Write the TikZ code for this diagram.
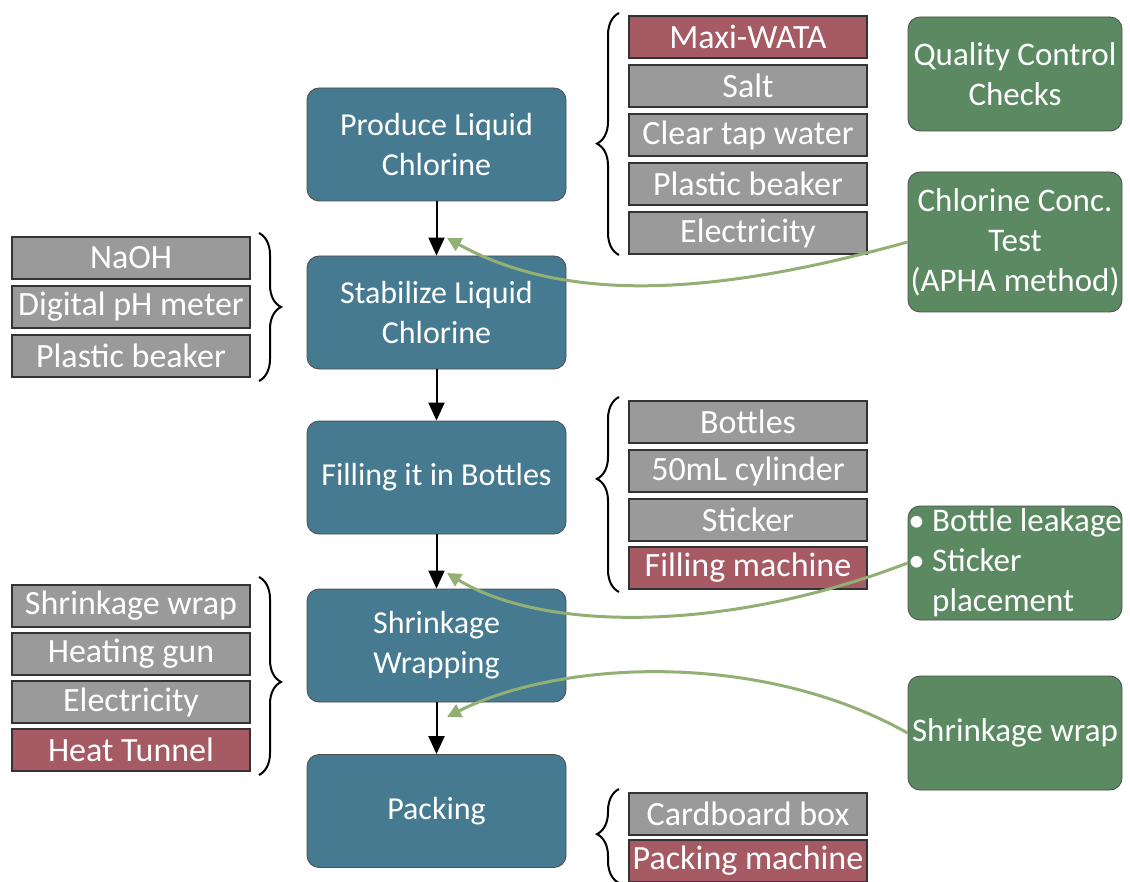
\documentclass[tikz,border=0pt]{standalone}
\usepackage{fontspec}
\setmainfont{Carlito}
\usepackage{xcolor}
\usetikzlibrary{arrows,arrows.meta,positioning,shapes,calc,decorations.pathreplacing}
\definecolor{proccol}{HTML}{457A91}
\definecolor{itemcol}{HTML}{9A9A9A}
\definecolor{redcol}{HTML}{A65A63}
\definecolor{qccol}{HTML}{5B8A62}
\definecolor{linkcol}{HTML}{93B074}

\begin{document}
\begin{tikzpicture}[x = 0.5pt, y = -0.5pt,
    proc/.style = {draw = black!70, fill = proccol, rounded corners = 6pt, minimum width = 129.5pt,
      minimum height = 56.5pt, text = white, align = center, inner sep = 0pt, font = \fontsize{16}{20}\selectfont},
    item/.style = {draw = black!80, line width = 1pt, fill = itemcol, minimum width = 119pt,
      minimum height = 21pt, text = white, inner sep = 0pt, font = \fontsize{17}{18}\selectfont},
    itemred/.style = {item, fill = redcol},
    qc/.style = {draw = black!70, fill = qccol, rounded corners = 6pt, minimum width = 107pt,
      minimum height = 57pt, text = white, align = center, inner sep = 0pt, font = \fontsize{16.5}{20}\selectfont},
    brc/.style = {decorate, decoration = {brace, amplitude = 11pt, aspect = #1}, line width = 1pt},
    flow/.style = {-{Triangle[length = 9pt, width = 8pt]}, line width = 1pt},
    qclink/.style = {-{Triangle[length = 7pt, width = 7pt]}, draw = linkcol, line width = 1.5pt}]
    \useasboundingbox (0,0) rectangle (1130,882);
    % Process steps
    \node[proc] (prod) at (436.5,144.5) {Produce Liquid\\Chlorine};
    \node[proc] (stab) at (436.5,312.5) {Stabilize Liquid\\Chlorine};
    \node[proc] (fill) at (436.5,477.5) {Filling it in Bottles};
    \node[proc] (shrink) at (436.5,645.5) {Shrinkage\\Wrapping};
    \node[proc] (pack) at (436.5,811) {Packing};
    \draw[flow] (prod) -- (stab);
    \draw[flow] (stab) -- (fill);
    \draw[flow] (fill) -- (shrink);
    \draw[flow] (shrink) -- (pack);
    % Inputs
    \node[itemred] (p1) at (748,37) {Maxi-WATA};
    \node[item] (p2) at (748,86) {Salt};
    \node[item] (p3) at (748,135) {Clear tap water};
    \node[item] (p4) at (748,184) {Plastic beaker};
    \node[item] (p5) at (748,233) {Electricity};
    \node[item] (s1) at (131,258) {NaOH};
    \node[item] (s2) at (131,307) {Digital pH meter};
    \node[item] (s3) at (131,356) {Plastic beaker};
    \node[item] (f1) at (748,422) {Bottles};
    \node[item] (f2) at (748,471) {50mL cylinder};
    \node[item] (f3) at (748,520) {Sticker};
    \node[itemred] (f4) at (748,568) {Filling machine};
    \node[item] (w1) at (131,606) {Shrinkage wrap};
    \node[item] (w2) at (131,654) {Heating gun};
    \node[item] (w3) at (131,702) {Electricity};
    \node[itemred] (w4) at (131,750) {Heat Tunnel};
    \node[item] (k1) at (748,814) {Cardboard box};
    \node[itemred] (k2) at (748,861) {Packing machine};
    % Braces
    \draw[brc = 0.46] ($(p5.south west)+(-9,0)$) -- ($(p1.north west)+(-9,-2)$);
    \draw[brc = 0.5] ($(s1.north east)+(8,-3)$) -- ($(s3.south east)+(8,3)$);
    \draw[brc = 0.58] ($(f4.south west)+(-9,2)$) -- ($(f1.north west)+(-9,-3)$);
    \draw[brc = 0.53] ($(w1.north east)+(8,-7)$) -- ($(w4.south east)+(8,3)$);
    \draw[brc = 0.52] ($(k2.south west)+(-9,0)$) -- ($(k1.north west)+(-9,-3)$);
    % Quality control
    \node[qc] (qc0) at (1015,74) {Quality Control\\Checks};
    \node[qc, minimum height = 70pt] (qc1) at (1015,242) {Chlorine Conc.\\Test\\(APHA method)};
    \node[qc, align = left] (qc2) at (1015,563) {\textbullet~Bottle leakage\\\textbullet~Sticker\\\phantom{\textbullet~}placement};
    \node[qc] (qc3) at (1015,733) {Shrinkage wrap};
    \coordinate (t1) at (447,238);
    \coordinate (t2) at (447,573);
    \coordinate (t3) at (447,717);
    \draw[qclink] (qc1.west) .. controls (700,300) and (560,300) .. (t1);
    \draw[qclink] (qc2.west) .. controls (720,635) and (540,630) .. (t2);
    \draw[qclink] (qc3.west) .. controls (760,650) and (560,660) .. (t3);
\end{tikzpicture}
\end{document}
